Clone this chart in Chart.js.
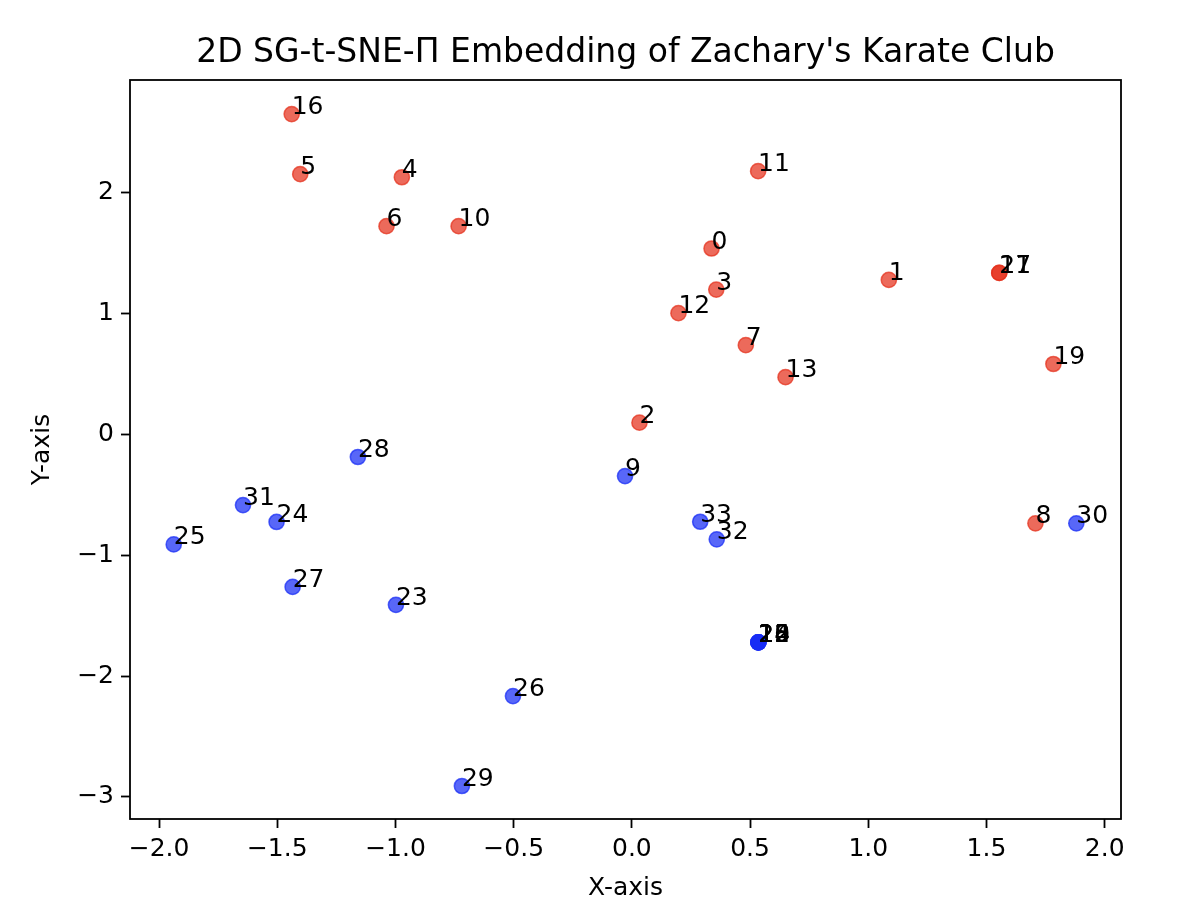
<!DOCTYPE html>
<html>
<head>
<meta charset="utf-8">
<script src="https://cdn.jsdelivr.net/npm/chart.js@4.4.1/dist/chart.umd.min.js"></script>
<style>
  html, body { margin: 0; padding: 0; background: #ffffff; }
  #wrap { width: 1198px; height: 920px; }
</style>
</head>
<body>
<div id="wrap"><canvas id="c" width="1198" height="920"></canvas></div>
<script>
// Node ids of Zachary's Karate Club
const nodeIds = [0,1,2,3,4,5,6,7,8,9,10,11,12,13,14,15,16,17,18,19,20,21,22,23,24,25,26,27,28,29,30,31,32,33];
// Embedding coordinates
const xs = [0.337, 1.087, 0.032, 0.357, -0.973, -1.403, -1.038, 0.482, 1.707, -0.029, -0.733, 0.534, 0.197, 0.65, 0.535, 0.535, -1.439, 1.554, 0.535, 1.783, 0.535, 1.554, 0.535, -0.998, -1.503, -1.938, -0.503, -1.435, -1.159, -0.719, 1.88, -1.645, 0.359, 0.289];
const ys = [1.54, 1.28, 0.098, 1.20, 2.13, 2.155, 1.725, 0.74, -0.735, -0.344, 1.725, 2.18, 1.005, 0.475, -1.72, -1.72, 2.653, 1.338, -1.72, 0.584, -1.72, 1.338, -1.72, -1.41, -0.724, -0.91, -2.165, -1.262, -0.186, -2.91, -0.735, -0.584, -0.868, -0.722];
// Faction of each node: 0 = red group, 1 = blue group
const faction = [0,0,0,0,0,0,0,0,0,1,0,0,0,0,1,1,0,0,1,0,1,0,1,1,1,1,1,1,1,1,1,1,1,1];
// Tick values
const xTicks = [-2.0, -1.5, -1.0, -0.5, 0.0, 0.5, 1.0, 1.5, 2.0];
const yTicks = [-3, -2, -1, 0, 1, 2];
const titleText = "2D SG-t-SNE-\u03A0 Embedding of Zachary's Karate Club";

const RED = 'rgba(228,48,28,0.72)';
const BLUE = 'rgba(24,44,245,0.72)';
const pts = nodeIds.map((id, i) => ({x: xs[i], y: ys[i]}));
const colors = faction.map(f => f === 0 ? RED : BLUE);

const FONT = "'DejaVu Sans', sans-serif";
const FS = 25;

const framePlugin = {
  id: 'frame',
  afterDatasetsDraw(chart) {
    const {ctx, chartArea: a} = chart;
    ctx.save();
    ctx.strokeStyle = '#000';
    ctx.lineWidth = 1.8;
    ctx.strokeRect(a.left, a.top, a.right - a.left, a.bottom - a.top);
    // title centred over the plot area
    ctx.fillStyle = '#000';
    ctx.font = "33px " + FONT;
    ctx.textAlign = 'center';
    ctx.textBaseline = 'middle';
    ctx.fillText(titleText, (a.left + a.right) / 2, 53);
    ctx.restore();
  }
};

const labelPlugin = {
  id: 'pointLabels',
  afterDatasetsDraw(chart) {
    const {ctx, scales} = chart;
    ctx.save();
    ctx.font = FS + "px " + FONT;
    ctx.fillStyle = '#000';
    ctx.textAlign = 'left';
    ctx.textBaseline = 'alphabetic';
    nodeIds.forEach((id, i) => {
      const px = scales.x.getPixelForValue(xs[i]);
      const py = scales.y.getPixelForValue(ys[i]);
      ctx.fillText(String(id), px, py);
    });
    ctx.restore();
  }
};

const fmt = (v, d) => (v < 0 ? '\u2212' : '') + Math.abs(v).toFixed(d);

new Chart(document.getElementById('c'), {
  type: 'scatter',
  data: {
    datasets: [{
      data: pts,
      backgroundColor: colors,
      borderColor: colors,
      borderWidth: 1.5,
      pointRadius: 7.6,
      pointHoverRadius: 7.6
    }]
  },
  options: {
    responsive: false,
    animation: false,
    events: [],
    layout: { padding: { left: 27, right: 77, top: 80, bottom: 17 } },
    plugins: {
      legend: { display: false },
      tooltip: { enabled: false },
      title: { display: false }
    },
    scales: {
      x: {
        type: 'linear',
        min: -2.123,
        max: 2.069,
        afterBuildTicks: s => { s.ticks = xTicks.map(v => ({value: v})); },
        afterFit: s => { s.height = 84; },
        ticks: {
          color: '#000',
          font: { family: FONT, size: FS },
          padding: 6,
          maxRotation: 0,
          autoSkip: false,
          callback: v => fmt(Number(v), 1)
        },
        grid: { display: true, drawOnChartArea: false, drawTicks: true, tickLength: 9, tickColor: '#000', tickWidth: 1.8 },
        border: { display: false },
        title: { display: true, text: 'X-axis', color: '#000', font: { family: FONT, size: FS }, padding: { top: 0, bottom: 0 } }
      },
      y: {
        type: 'linear',
        min: -3.183,
        max: 2.935,
        afterBuildTicks: s => { s.ticks = yTicks.map(v => ({value: v})); },
        afterFit: s => { s.width = 103; },
        ticks: {
          color: '#000',
          font: { family: FONT, size: FS },
          padding: 7,
          autoSkip: false,
          callback: v => fmt(Number(v), 0)
        },
        grid: { display: true, drawOnChartArea: false, drawTicks: true, tickLength: 9, tickColor: '#000', tickWidth: 1.8 },
        border: { display: false },
        title: { display: true, text: 'Y-axis', color: '#000', font: { family: FONT, size: FS }, padding: { top: 0, bottom: 0 } }
      }
    }
  },
  plugins: [framePlugin, labelPlugin]
});
</script>
</body>
</html>
